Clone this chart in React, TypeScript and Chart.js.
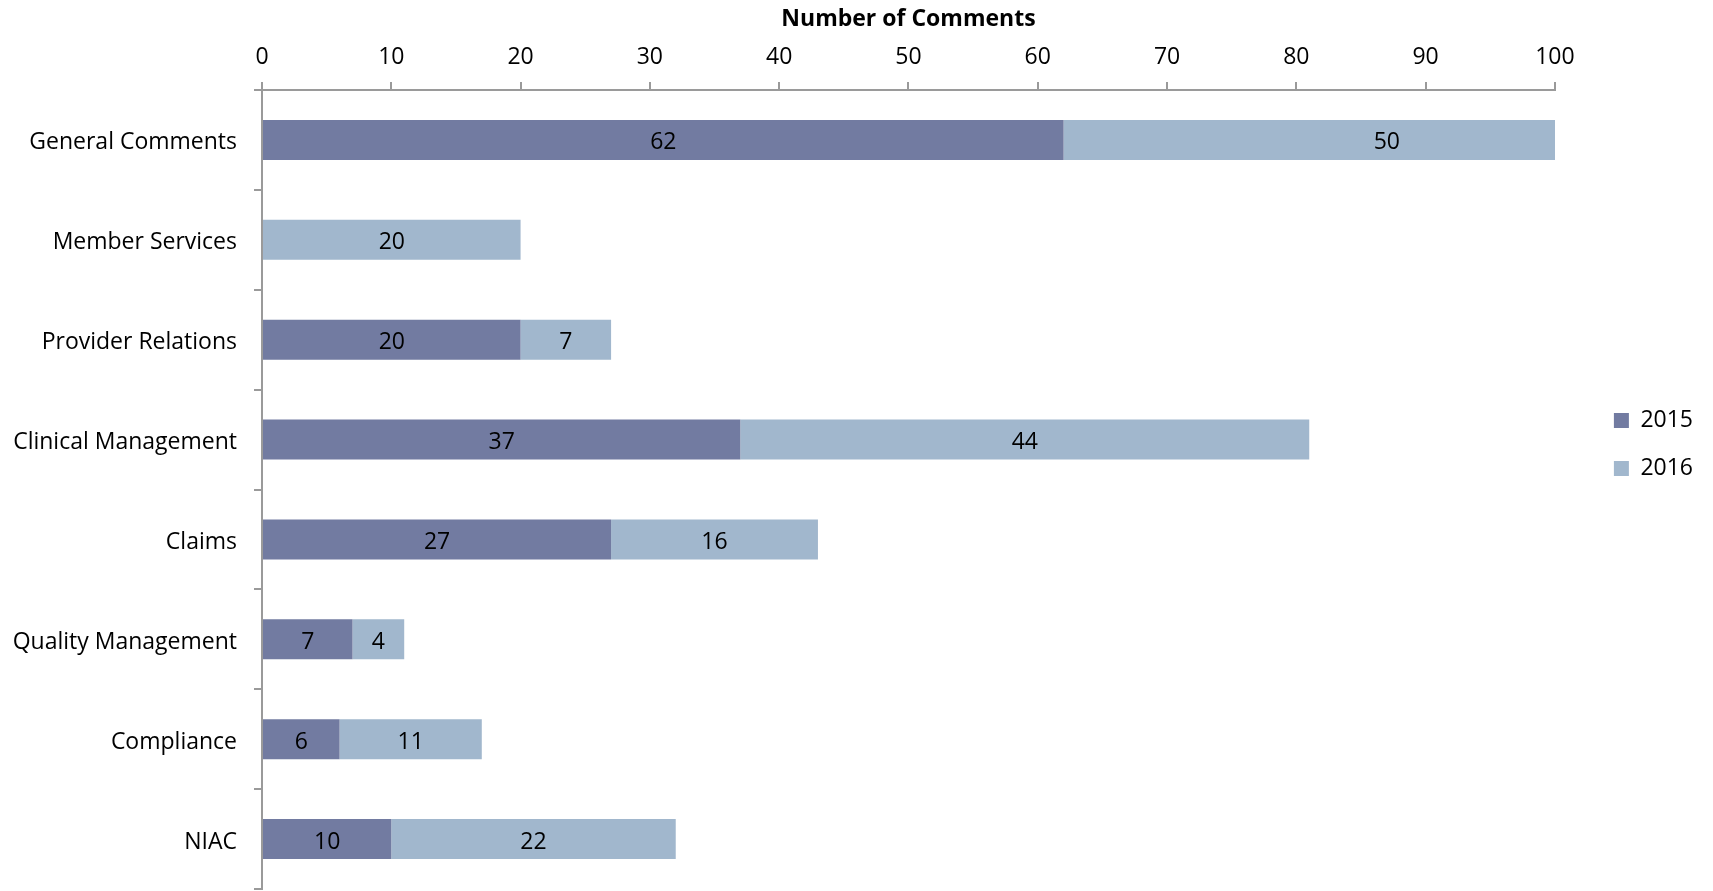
import React, { useEffect, useRef } from "react";
import { Chart, registerables } from "chart.js";

Chart.register(...registerables);

const categories = [
  "General Comments",
  "Member Services",
  "Provider Relations",
  "Clinical Management",
  "Claims",
  "Quality Management",
  "Compliance",
  "NIAC",
];
const values2015 = [62, 0, 20, 37, 27, 7, 6, 10];
const values2016 = [50, 20, 7, 44, 16, 4, 11, 22];
const seriesLabels = ["2015", "2016"];
const seriesColors = ["#727BA1", "#A1B7CD"];
const axisTitle = "Number of Comments";
const xMin = 0;
const xMax = 100;
const xStep = 10;

const FONT = "'Open Sans', Lato, sans-serif";
const AXIS = "#9a9a9a";

const valueLabelPlugin = {
  id: "valueLabels",
  afterDatasetsDraw(chart: any) {
    const ctx = chart.ctx;
    ctx.save();
    ctx.font = `23px ${FONT}`;
    ctx.fillStyle = "#000";
    ctx.textAlign = "center";
    ctx.textBaseline = "middle";
    chart.data.datasets.forEach((ds: any, di: number) => {
      const meta = chart.getDatasetMeta(di);
      meta.data.forEach((el: any, i: number) => {
        const v = ds.data[i];
        if (!v) return;
        const cx = (el.x + el.base) / 2;
        ctx.fillText(String(v), cx, el.y + 3);
      });
    });
    ctx.restore();
  },
};

export default function App() {
  const ref = useRef<HTMLCanvasElement | null>(null);
  useEffect(() => {
    document.body.style.margin = "0";
    document.body.style.overflow = "hidden";
    const canvas = ref.current;
    if (!canvas) return;
    const chart = new Chart(canvas, {
      type: "bar",
      data: {
        labels: categories,
        datasets: [
          {
            label: seriesLabels[0],
            data: values2015,
            backgroundColor: seriesColors[0],
            borderWidth: 0,
            barPercentage: 0.4,
            categoryPercentage: 1,
            xAxisID: "x",
            yAxisID: "y",
          },
          {
            label: seriesLabels[1],
            data: values2016,
            backgroundColor: seriesColors[1],
            borderWidth: 0,
            barPercentage: 0.4,
            categoryPercentage: 1,
            xAxisID: "x",
            yAxisID: "y",
          },
        ],
      },
      options: {
        indexAxis: "y",
        responsive: false,
        animation: false,
        layout: { padding: { top: 0, right: 10, bottom: 2, left: 0 } },
        scales: {
          x: {
            type: "linear",
            position: "top",
            stacked: true,
            min: xMin,
            max: xMax,
            ticks: {
              stepSize: xStep,
              font: { family: FONT, size: 23 },
              color: "#000",
              padding: 11,
              maxRotation: 0,
            },
            grid: { drawOnChartArea: false, tickLength: 8, color: AXIS, lineWidth: 2 },
            border: { color: AXIS, width: 2 },
            title: {
              display: true,
              text: axisTitle,
              font: { family: FONT, size: 23, weight: "bold" },
              color: "#000",
              padding: { top: 6, bottom: 0 },
            },
            afterFit: (s: any) => {
              s.height = 90;
              s.paddingLeft = 0;
            },
          },
          y: {
            type: "category",
            position: "left",
            stacked: true,
            ticks: { font: { family: FONT, size: 23 }, color: "#000", padding: 17, labelOffset: 3 },
            grid: { drawOnChartArea: false, tickLength: 8, color: AXIS, lineWidth: 2, offset: true },
            border: { color: AXIS, width: 2 },
            afterFit: (s: any) => {
              s.width = 262;
              s.paddingTop = 0;
              s.paddingBottom = 0;
            },
          },
          spacer: {
            type: "linear",
            axis: "y",
            position: "right",
            display: true,
            ticks: { display: false },
            grid: { display: false },
            border: { display: false },
            afterFit: (s: any) => {
              s.width = 34;
              s.paddingTop = 0;
              s.paddingBottom = 0;
            },
          },
        },
        plugins: {
          legend: {
            position: "right",
            align: "center",
            labels: {
              boxWidth: 15,
              boxHeight: 15,
              padding: 25,
              font: { family: FONT, size: 23 },
              color: "#000",
            },
          },
          tooltip: { enabled: false },
        },
      } as any,
      plugins: [valueLabelPlugin],
    });
    return () => chart.destroy();
  }, []);
  return (
    <div style={{ width: 1713, height: 891 }}>
      <canvas ref={ref} width={1713} height={891} style={{ display: "block" }} />
    </div>
  );
}
